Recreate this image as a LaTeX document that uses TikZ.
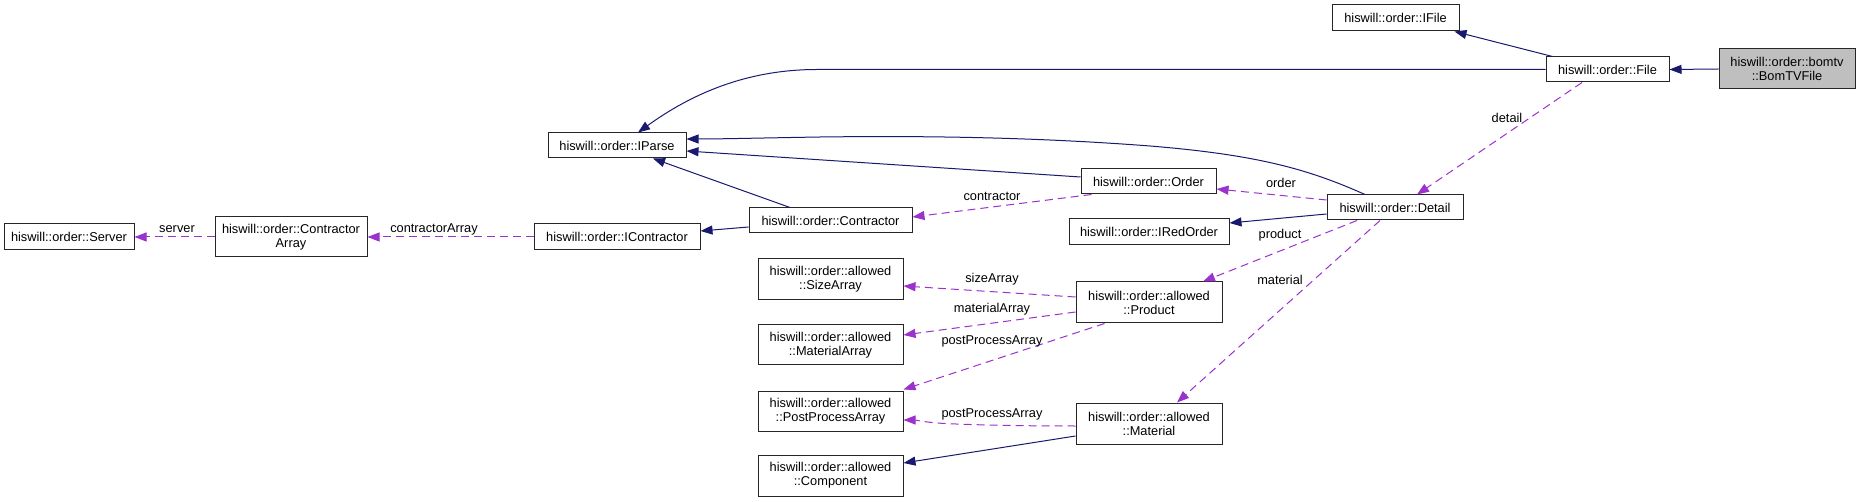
\documentclass[tikz,border=0pt]{standalone}
\usepackage{fontspec}
\setmainfont{Liberation Sans}
\usetikzlibrary{arrows.meta,calc}
\definecolor{inhblue}{HTML}{191970}
\definecolor{usepurple}{HTML}{9A32CD}
\begin{document}
\begin{tikzpicture}[x=1pt,y=-1pt,
  font=\fontsize{12.8}{14}\selectfont,
  cls/.style={draw=black!85,line width=1pt,fill=white,inner sep=0pt,align=center},
  inh/.style={draw=inhblue,line width=1pt,-{Triangle[length=12pt,width=9pt]}},
  use/.style={draw=usepurple,line width=1pt,dash pattern=on 8pt off 5pt,-{Triangle[length=12pt,width=9pt]}},
  lbl/.style={inner sep=0pt,fill=none}]
\useasboundingbox (0,0) rectangle (1860,502);
\fill[white] (0,0) rectangle (1860,502);
% nodes
\node[cls,minimum width=130pt,minimum height=26pt] (server) at (69,237) {hiswill::order::Server};
\node[cls,minimum width=152pt,minimum height=40pt] (carray) at (291,237) {hiswill::order::Contractor\\Array};
\node[cls,minimum width=166pt,minimum height=26pt] (icontr) at (617,237) {hiswill::order::IContractor};
\node[cls,minimum width=163pt,minimum height=25pt] (contr) at (830.5,220.5) {hiswill::order::Contractor};
\node[cls,minimum width=138pt,minimum height=25pt] (iparse) at (617,145.5) {hiswill::order::IParse};
\node[cls,minimum width=135pt,minimum height=25pt] (order) at (1148.5,181.5) {hiswill::order::Order};
\node[cls,minimum width=136pt,minimum height=25pt] (detail) at (1395,207.5) {hiswill::order::Detail};
\node[cls,minimum width=160pt,minimum height=26pt] (iredorder) at (1149,232) {hiswill::order::IRedOrder};
\node[cls,minimum width=127pt,minimum height=26pt] (ifile) at (1395.5,18) {hiswill::order::IFile};
\node[cls,minimum width=123pt,minimum height=25pt] (file) at (1607.5,69.5) {hiswill::order::File};
\node[cls,fill=black!25,minimum width=136pt,minimum height=40pt] (bomtv) at (1787,69) {hiswill::order::bomtv\\::BomTVFile};
\node[cls,minimum width=145pt,minimum height=41pt] (sizearr) at (830.5,279.5) {hiswill::order::allowed\\::SizeArray};
\node[cls,minimum width=145pt,minimum height=40pt] (matarr) at (830.5,345) {hiswill::order::allowed\\::MaterialArray};
\node[cls,minimum width=146pt,minimum height=41pt] (product) at (1149,302.5) {hiswill::order::allowed\\::Product};
\node[cls,minimum width=145pt,minimum height=40pt] (ppa) at (830.5,411) {hiswill::order::allowed\\::PostProcessArray};
\node[cls,minimum width=146pt,minimum height=41pt] (material) at (1149,423.5) {hiswill::order::allowed\\::Material};
\node[cls,minimum width=145pt,minimum height=41pt] (component) at (830.5,475.5) {hiswill::order::allowed\\::Component};
% inheritance edges
\draw[inh] (bomtv.west) -- (file.east);
\draw[inh] ($(file.north west)+(7,0)$) -- ($(ifile.south east)+(-5,0)$);
\draw[inh] (file.west) -- (817,69.5) .. controls (745,69.5) and (690,95) .. ($(iparse.north)+(21,0)$);
\draw[inh] ($(detail.north)+(-30,0)$) .. controls (1310,170) and (1260,155) .. (1150,146) .. controls (1020,136) and (900,136) .. (820,137) .. controls (760,138) and (720,139) .. ($(iparse.east)+(0,-6.5)$);
\draw[inh] ($(order.west)+(0,-4.5)$) -- ($(iparse.east)+(0,5.5)$);
\draw[inh] ($(contr.north)+(-40.5,0)$) -- ($(iparse.south)+(36,0)$);
\draw[inh] ($(contr.west)+(0,6.5)$) -- ($(icontr.east)+(0,-6)$);
\draw[inh] ($(detail.west)+(0,6.5)$) -- ($(iredorder.east)+(0,-9)$);
\draw[inh] ($(material.west)+(0,12.5)$) -- ($(component.east)+(0,-12.5)$);
% usage edges
\draw[use] (icontr.west) -- (carray.east);
\node[lbl] (lcarray) at (434,229) {contractorArray};
\draw[use] (carray.west) -- (server.east);
\node[lbl] (lserver) at (177,229) {server};
\draw[use] ($(order.south west)+(11,0)$) -- ($(contr.east)+(0,-3.5)$);
\node[lbl] (lcontr) at (992,196) {contractor};
\draw[use] ($(detail.west)+(0,-7.5)$) -- ($(order.east)+(0,7.5)$);
\node[lbl] (lorder) at (1281,183) {order};
\draw[use] ($(file.south)+(-25.5,0)$) -- ($(detail.north)+(22,0)$);
\node[lbl] (ldetail) at (1507,118) {detail};
\draw[use] ($(detail.south)+(-38,0)$) -- ($(product.north)+(54,0)$);
\node[lbl] (lproduct) at (1280,235) {product};
\draw[use] ($(detail.south)+(-15,0)$) -- ($(material.north)+(28,0)$);
\node[lbl] (lmaterial) at (1280,280) {material};
\draw[use] ($(product.west)+(0,-5.5)$) -- ($(sizearr.east)+(0,6.5)$);
\node[lbl] (lsize) at (992,279) {sizeArray};
\draw[use] ($(product.west)+(0,9.5)$) -- ($(matarr.east)+(0,-10)$);
\node[lbl] (lmatarr) at (992,309) {materialArray};
\draw[use] ($(product.south west)+(29,0)$) -- ($(ppa.north east)+(0,-1)$);
\node[lbl] (lppa1) at (992,341) {postProcessArray};
\draw[use] ($(material.west)+(0,2.5)$) .. controls (1000,426) and (950,424) .. (937,423) .. controls (925,422) and (915,420) .. ($(ppa.east)+(0,9)$);
\node[lbl] (lppa2) at (992,414) {postProcessArray};
\end{tikzpicture}
\end{document}
